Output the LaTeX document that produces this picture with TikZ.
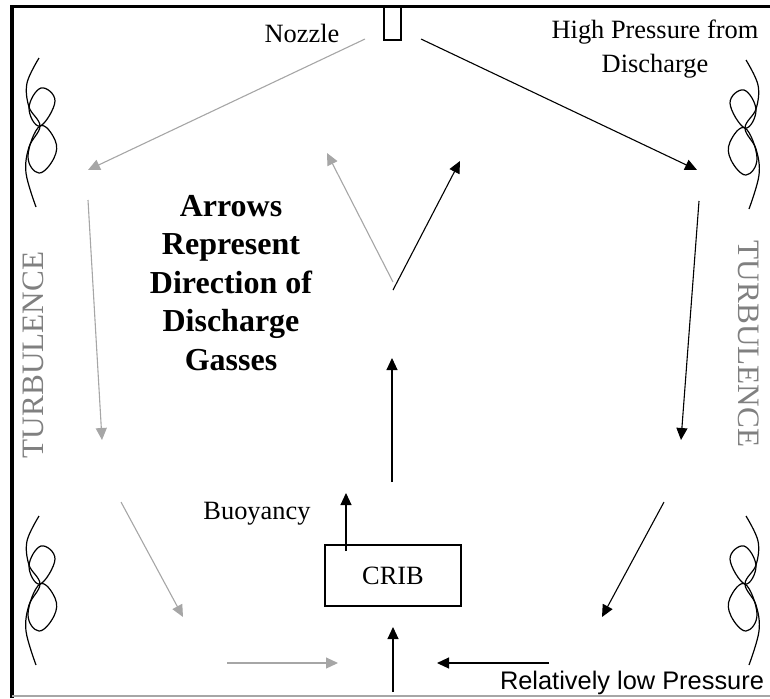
\documentclass[tikz,border=0pt]{standalone}
\usepackage{fontspec}
\setmainfont{Liberation Serif}
\newfontfamily\arialfont{Liberation Sans}
\usepackage{tikz}
\usetikzlibrary{arrows.meta}
\definecolor{lightflow}{RGB}{166,166,166}
\definecolor{turbgray}{RGB}{128,128,128}

\tikzset{
  flow/.style={line width=.55pt, -{Triangle[length=6pt,width=5.5pt]}},
  faint/.style={flow, lightflow},
  twist/.pic={
    \draw[line width=.6pt] plot[smooth, tension=.6] coordinates {(-1,-74) (-13,-49) (-11,-25) (0,-6) (-11,15) (-14,41) (-4,75)};
    \draw[line width=.6pt] plot[smooth cycle, tension=.7] coordinates {(0,-6) (-11,-24) (1,-44) (15,-31)};
    \draw[line width=.6pt] plot[smooth cycle, tension=.7] coordinates {(0,-6) (15,8) (14,26) (-1,41) (-12,24)};
  }
}

\begin{document}
\begin{tikzpicture}[x=.5pt, y=-.5pt, font=\fontsize{13.2}{17}\selectfont]
\useasboundingbox (0,0) rectangle (770,698);
 % frame
 \draw[line width=1.6pt] (12,698) -- (12,6.5) -- (770,6.5);
 \draw[lightflow, line width=.6pt] (12,696) -- (770,696);
 % nozzle and crib
 \node[draw, line width=1pt, minimum width=8.5pt, minimum height=16.5pt, inner sep=0pt] (nozzle) at (392.5,23.5) {};
 \node[draw, line width=1pt, minimum width=68pt, minimum height=30.5pt] (crib) at (393,575.5) {CRIB};
 % labels
 \node (nozlbl) at (302,33) {Nozzle};
 \node[align=center] (hplbl) at (655,49) {High Pressure from\\Discharge};
 \node (buoylbl) at (257,514) {Buoyancy};
 \node[font=\arialfont\fontsize{12.7}{15}\selectfont] (lowlbl) at (632,683) {Relatively low Pressure};
 \node[font=\bfseries\fontsize{16}{19.25}\selectfont, align=center] (legend) at (231,283) {Arrows\\Represent\\Direction of\\Discharge\\Gasses};
 \node[rotate=90, turbgray, font=\fontsize{15.6}{18}\selectfont] (turbL) at (33,355) {TURBULENCE};
 \node[rotate=-90, turbgray, font=\fontsize{15.6}{18}\selectfont] (turbR) at (749,344) {TURBULENCE};
 % swirls
 \pic at (40,132) {twist};
 \pic at (40,590) {twist};
 \pic[xscale=-1] at (745,134) {twist};
 \pic[xscale=-1] at (745,590) {twist};
 % arrow ends
 \coordinate (jetL) at (365,39);   \coordinate (jetLe) at (88,170);
 \coordinate (jetR) at (421,39);   \coordinate (jetRe) at (697,170);
 \coordinate (sideL) at (88,200);  \coordinate (sideLe) at (102,440);
 \coordinate (sideR) at (699,201); \coordinate (sideRe) at (681,440);
 \coordinate (lowL) at (121,502);  \coordinate (lowLe) at (183,617);
 \coordinate (lowR) at (664,502);  \coordinate (lowRe) at (602,617);
 \coordinate (floorL) at (227,663); \coordinate (floorLe) at (338,663);
 \coordinate (floorR) at (549,663); \coordinate (floorRe) at (437,663);
 \coordinate (feed) at (393,692);  \coordinate (feedE) at (393,627);
 \coordinate (buoy) at (346,551);  \coordinate (buoyE) at (346,493);
 \coordinate (plume) at (392,482); \coordinate (plumeE) at (392,358);
 \coordinate (fork) at (393,282);  \coordinate (forkL) at (327,153);
 \coordinate (fork2) at (393,290); \coordinate (forkR) at (460,161);
 % gas flow
 \draw[faint] (jetL) -- (jetLe);
 \draw[flow] (jetR) -- (jetRe);
 \draw[faint] (sideL) -- (sideLe);
 \draw[flow] (sideR) -- (sideRe);
 \draw[faint] (lowL) -- (lowLe);
 \draw[flow] (lowR) -- (lowRe);
 \draw[faint] (floorL) -- (floorLe);
 \draw[flow] (floorR) -- (floorRe);
 \draw[flow] (feed) -- (feedE);
 \draw[flow] (buoy) -- (buoyE);
 \draw[flow] (plume) -- (plumeE);
 \draw[faint] (fork) -- (forkL);
 \draw[flow] (fork2) -- (forkR);
\end{tikzpicture}
\end{document}
